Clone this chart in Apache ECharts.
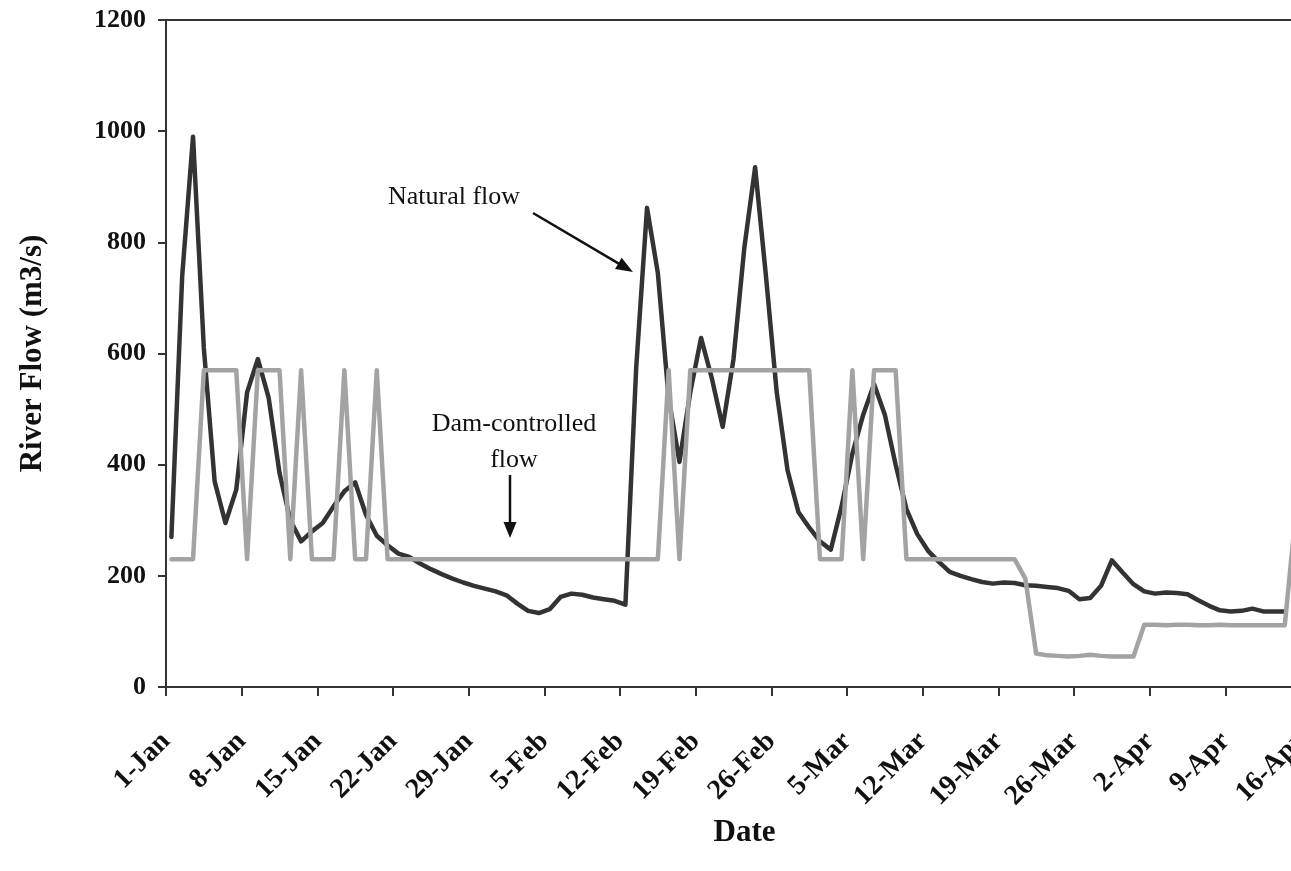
<!DOCTYPE html>
<html>
<head>
<meta charset="utf-8">
<script src="https://cdn.jsdelivr.net/npm/echarts@6/dist/echarts.min.js"></script>
<style>
html,body{margin:0;padding:0;background:#fff;}
#chart{width:1291px;height:871px;}
</style>
</head>
<body>
<div id="chart"></div>
<script>
// Tick labels every 7 days starting 1-Jan (day 0)
var tickLabels = ['1-Jan','8-Jan','15-Jan','22-Jan','29-Jan','5-Feb','12-Feb','19-Feb','26-Feb','5-Mar','12-Mar','19-Mar','26-Mar','2-Apr','9-Apr','16-Apr'];

// Daily natural flow (m3/s), one value per day from 1-Jan
var naturalFlow = [
  270, 740, 990, 610, 370, 295, 355, 530, 590, 520,
  385, 300, 262, 280, 295, 325, 352, 368, 310, 272,
  255, 240, 234, 222, 212, 203, 195, 188, 182, 177,
  172, 165, 150, 137, 133, 140, 162, 168, 166, 161,
  158, 155, 148, 575, 862, 745, 520, 405, 530, 628,
  555, 468, 590, 790, 935, 740, 530, 390, 315, 287,
  262, 247, 325, 420, 490, 545, 490, 400, 320, 275,
  245, 225, 207, 200, 194, 189, 186, 188, 187, 183,
  182, 180, 178, 173, 158, 160, 182, 228, 206, 185,
  172, 168, 170, 169, 167, 156, 146, 138, 136, 137,
  141, 136, 136, 136
];

// Daily dam-controlled flow (m3/s)
var damFlow = [
  230, 230, 230, 570, 570, 570, 570, 230, 570, 570,
  570, 230, 570, 230, 230, 230, 570, 230, 230, 570,
  230, 230, 230, 230, 230, 230, 230, 230, 230, 230,
  230, 230, 230, 230, 230, 230, 230, 230, 230, 230,
  230, 230, 230, 230, 230, 230, 570, 230, 570, 570,
  570, 570, 570, 570, 570, 570, 570, 570, 570, 570,
  230, 230, 230, 570, 230, 570, 570, 570, 230, 230,
  230, 230, 230, 230, 230, 230, 230, 230, 230, 195,
  60, 57, 56, 55, 56, 58, 56, 55, 55, 55,
  112, 112, 111, 112, 112, 111, 111, 112, 111, 111,
  111, 111, 111, 111, 310
];

// Each daily value is plotted at the middle of its day
function toPoints(arr) {
  return arr.map(function (v, i) { return [i + 0.5, v]; });
}

var serif = '"Liberation Serif", "Times New Roman", serif';
var chart = echarts.init(document.getElementById('chart'), null, {renderer: 'canvas'});

function arrow(x1, y1, x2, y2, headLen, headHalf) {
  var dx = x2 - x1, dy = y2 - y1;
  var len = Math.sqrt(dx * dx + dy * dy);
  var ux = dx / len, uy = dy / len;
  var bx = x2 - ux * headLen, by = y2 - uy * headLen;
  var px = -uy, py = ux;
  return [
    {type: 'line', shape: {x1: x1, y1: y1, x2: bx + ux * 2, y2: by + uy * 2},
     style: {stroke: '#111', lineWidth: 2.5}},
    {type: 'polygon', shape: {points: [[x2, y2], [bx + px * headHalf, by + py * headHalf], [bx - px * headHalf, by - py * headHalf]]},
     style: {fill: '#111'}}
  ];
}

var option = {
  backgroundColor: '#ffffff',
  animation: false,
  grid: {
    left: 166, top: 20, right: -10, bottom: 184,
    outerBoundsMode: 'none', containLabel: false,
    show: true, borderColor: '#333', borderWidth: 2, backgroundColor: 'transparent'
  },
  xAxis: {
    type: 'value', min: 0, max: 105, interval: 7,
    name: 'Date', nameLocation: 'middle', nameGap: 124,
    nameTextStyle: {fontFamily: serif, fontWeight: 'bold', fontSize: 31, color: '#111', padding: [0, 0, 0, 22]},
    axisLine: {show: true, onZero: false, lineStyle: {color: '#333', width: 2}},
    axisTick: {show: true, inside: false, length: 9, lineStyle: {color: '#333', width: 2}},
    splitLine: {show: false},
    axisLabel: {
      rotate: 45, margin: 50, fontFamily: serif, fontWeight: 'bold', fontSize: 28, color: '#111',
      formatter: function (v) { return tickLabels[Math.round(v / 7)] || ''; }
    }
  },
  yAxis: {
    type: 'value', min: 0, max: 1200, interval: 200,
    name: 'River Flow (m3/s)', nameLocation: 'middle', nameGap: 118, nameRotate: 90,
    nameTextStyle: {fontFamily: serif, fontWeight: 'bold', fontSize: 31, color: '#111'},
    axisLine: {show: true, lineStyle: {color: '#333', width: 2}},
    axisTick: {show: true, inside: false, length: 8, lineStyle: {color: '#333', width: 2}},
    splitLine: {show: false},
    axisLabel: {
      margin: 20, fontFamily: serif, fontWeight: 'bold', fontSize: 26, color: '#111',
      formatter: function (v) { return String(v); }
    }
  },
  series: [
    {
      name: 'Natural flow', type: 'line', data: toPoints(naturalFlow),
      showSymbol: false, symbol: 'none', z: 2,
      lineStyle: {color: '#333333', width: 4.5, join: 'round', cap: 'round'}
    },
    {
      name: 'Dam-controlled flow', type: 'line', data: toPoints(damFlow),
      showSymbol: false, symbol: 'none', z: 3,
      lineStyle: {color: '#a3a3a3', width: 4.5, join: 'round', cap: 'round'}
    }
  ],
  graphic: [].concat(
    [
      {type: 'text', left: 388, top: 184, style: {text: 'Natural flow', font: '26px ' + serif, fill: '#111'}},
      {type: 'text', x: 514, y: 424, style: {text: 'Dam-controlled', font: '26px ' + serif, fill: '#111', textAlign: 'center', textVerticalAlign: 'middle'}},
      {type: 'text', x: 514, y: 460, style: {text: 'flow', font: '26px ' + serif, fill: '#111', textAlign: 'center', textVerticalAlign: 'middle'}}
    ],
    arrow(533, 213, 633, 272, 17, 6.5),
    arrow(510, 475, 510, 538, 16, 6.5)
  )
};
chart.setOption(option);
</script>
</body>
</html>
